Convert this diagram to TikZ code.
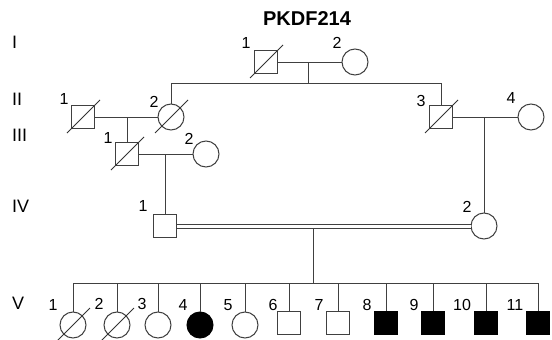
\documentclass[tikz,border=0pt]{standalone}
\usepackage{fontspec}
\setmainfont{Liberation Sans}
\begin{document}
\begin{tikzpicture}[x=1pt,y=-1pt,
  ln/.style={draw=black!75,line width=1pt},
  male/.style={draw=black!75,line width=1pt,minimum size=23pt,inner sep=0pt,rectangle,fill=white},
  female/.style={draw=black!75,line width=1pt,minimum size=26pt,inner sep=0pt,circle,fill=white},
  aff/.style={fill=black,draw=black},
  num/.style={font=\fontsize{16}{16}\selectfont,inner sep=0pt},
  gen/.style={font=\fontsize{18}{18}\selectfont,inner sep=0pt,anchor=west},
  dec/.style={draw=black!80,line width=1pt},
]
\useasboundingbox (0,0) rectangle (552,340);
\node[font=\bfseries\fontsize{20}{20}\selectfont,inner sep=0pt] (title) at (307,19) {PKDF214};
% generation labels
\node[gen] (gI) at (12,42) {I};
\node[gen] (gII) at (12,99) {II};
\node[gen] (gIII) at (12,135) {III};
\node[gen] (gIV) at (12,206) {IV};
\node[gen] (gV) at (12,303) {V};
% generation I
\node[male] (I1) at (266,62) {};
\node[female] (I2) at (355,62) {};
% generation II
\node[male] (II1) at (83,117) {};
\node[female] (II2) at (171,117) {};
\node[male] (II3) at (441,117) {};
\node[female] (II4) at (531,117) {};
% generation III
\node[male] (III1) at (127,154) {};
\node[female] (III2) at (206,154) {};
% generation IV
\node[male] (IV1) at (165,226) {};
\node[female] (IV2) at (484,226) {};
% generation V
\node[female] (V1) at (73,325) {};
\node[female] (V2) at (117,325) {};
\node[female] (V3) at (158,325) {};
\node[female,aff] (V4) at (200,325) {};
\node[female] (V5) at (245,325) {};
\node[male] (V6) at (289,323) {};
\node[male] (V7) at (338,323) {};
\node[male,aff] (V8) at (386,323) {};
\node[male,aff] (V9) at (433,323) {};
\node[male,aff] (V10) at (486,323) {};
\node[male,aff] (V11) at (538,323) {};
% deceased slashes
\foreach \n in {I1,II1,II2,II3,III1,V1,V2}{
  \draw[dec] ([shift={(-16,16)}]\n.center) -- ([shift={(17,-17)}]\n.center);
}
% numbers
\node[num] (nI1) at (246,43) {1};
\node[num] (nI2) at (337,43) {2};
\node[num] (nII1) at (64,99) {1};
\node[num] (nII2) at (154,102) {2};
\node[num] (nII3) at (421,101) {3};
\node[num] (nII4) at (511,98) {4};
\node[num] (nIII1) at (108,138) {1};
\node[num] (nIII2) at (189,139) {2};
\node[num] (nIV1) at (143,206) {1};
\node[num] (nIV2) at (467,207) {2};
\node[num] (nV1) at (53,305) {1};
\node[num] (nV2) at (99,304) {2};
\node[num] (nV3) at (142,304) {3};
\node[num] (nV4) at (183,305) {4};
\node[num] (nV5) at (228,305) {5};
\node[num] (nV6) at (273,305) {6};
\node[num] (nV7) at (319,305) {7};
\node[num] (nV8) at (367,305) {8};
\node[num] (nV9) at (414,305) {9};
\node[num] (nV10) at (462,305) {10};
\node[num] (nV11) at (515,305) {11};
% connectors
\coordinate (cI) at (308,62);
\coordinate (sI) at (308,83);
\draw[ln] (I1) -- (I2);
\draw[ln] (cI) -- (sI);
\draw[ln] (II2) -- (II2 |- sI) -- (II3 |- sI) -- (II3);
\draw[ln] (II1) -- (II2);
\draw[ln] (III1 |- II1) -- (III1);
\draw[ln] (II3) -- (II4);
\draw[ln] (IV2 |- II3) -- (IV2);
\draw[ln] (III1) -- (III2);
\coordinate (cIII) at (165,154);
\draw[ln] (cIII) -- (IV1);
\draw[ln,double=white,double distance=3pt] (IV1) -- (IV2);
\coordinate (cIV) at (313,228);
\coordinate (sV) at (313,283);
\draw[ln] (cIV) -- (sV);
\draw[ln] (V1 |- sV) -- (V11 |- sV);
\foreach \n in {V1,V2,V3,V4,V5,V6,V7,V8,V9,V10,V11}{
  \draw[ln] (\n |- sV) -- (\n);
}
\end{tikzpicture}
\end{document}
